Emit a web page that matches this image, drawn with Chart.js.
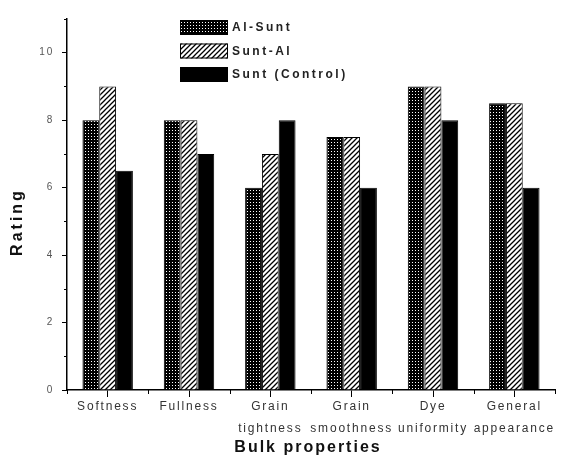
<!DOCTYPE html>
<html>
<head>
<meta charset="utf-8">
<script src="https://cdn.jsdelivr.net/npm/chart.js@4.4.1/dist/chart.umd.min.js"></script>
<style>
  html, body { margin: 0; padding: 0; background: #fff; }
  #wrap { width: 579px; height: 457px; }
</style>
</head>
<body>
<div id="wrap"><canvas id="chart" width="579" height="457"></canvas></div>
<script>
// Data
const categories = [
  ["Softness"], ["Fullness"], ["Grain", "tightness"],
  ["Grain", "smoothness"], ["Dye", "uniformity"], ["General", "appearance"]
];
const seriesNames = ["Al-Sunt", "Sunt-Al", "Sunt (Control)"];
const alSunt = [8, 8, 6, 7.5, 9, 8.5];
const suntAl = [9, 8, 7, 7.5, 9, 8.5];
const suntControl = [6.5, 7, 8, 6, 8, 6];
const yTicks = [0, 2, 4, 6, 8, 10];
const xTitle = "Bulk properties";
const yTitle = "Rating";

const FONT = "'Liberation Sans', Arial, sans-serif";

// fill patterns
function dotPattern() {
  const c = document.createElement("canvas");
  c.width = 3; c.height = 3;
  const g = c.getContext("2d");
  g.fillStyle = "#000";
  g.fillRect(0, 0, 3, 3);
  g.fillStyle = "#fff";
  g.fillRect(1, 1, 1, 1);
  return g.createPattern(c, "repeat");
}
function hatchPattern() {
  const c = document.createElement("canvas");
  c.width = 5; c.height = 5;
  const g = c.getContext("2d");
  g.fillStyle = "#fff";
  g.fillRect(0, 0, 5, 5);
  g.strokeStyle = "#000";
  g.lineWidth = 1.3;
  g.beginPath();
  g.moveTo(-1, 6); g.lineTo(6, -1);
  g.moveTo(-1, 1); g.lineTo(1, -1);
  g.moveTo(4, 6); g.lineTo(6, 4);
  g.stroke();
  return g.createPattern(c, "repeat");
}

// wide letter spacing for tick labels
const spacing = {
  id: "spacing",
  beforeLayout(chart) { chart.ctx.letterSpacing = "1.8px"; },
  beforeDraw(chart) { chart.ctx.letterSpacing = "1.8px"; }
};

// minor ticks on both axes
const minorTicks = {
  id: "minorTicks",
  afterDraw(chart) {
    const ctx = chart.ctx;
    const x = chart.scales.x, y = chart.scales.y;
    ctx.save();
    ctx.strokeStyle = "#000";
    ctx.lineWidth = 1;
    ctx.beginPath();
    for (let v = 1; v <= y.max; v += 2) {
      const py = Math.round(y.getPixelForValue(v)) + 0.5;
      ctx.moveTo(x.left, py); ctx.lineTo(x.left - 3, py);
    }
    const n = categories.length;
    for (let i = 0; i <= n; i++) {
      let px;
      if (i === 0) px = x.left;
      else if (i === n) px = x.right;
      else px = (x.getPixelForTick(i - 1) + x.getPixelForTick(i)) / 2;
      px = Math.round(px) + 0.5;
      ctx.moveTo(px, y.bottom); ctx.lineTo(px, y.bottom + 4);
    }
    ctx.stroke();
    ctx.restore();
  }
};

// axis titles and stacked legend
const extras = {
  id: "extras",
  afterDraw(chart) {
    const ctx = chart.ctx;
    const x = chart.scales.x;
    ctx.save();
    ctx.fillStyle = "#111";
    ctx.textBaseline = "middle";
    ctx.textAlign = "center";
    ctx.letterSpacing = "2px";
    ctx.font = "bold 16px " + FONT;
    ctx.fillText(xTitle, (x.left + x.right) / 2 - 3, 448);

    ctx.save();
    ctx.translate(18, 222);
    ctx.rotate(-Math.PI / 2);
    ctx.letterSpacing = "3px";
    ctx.fillText(yTitle, 0, 0);
    ctx.restore();

    ctx.textAlign = "left";
    ctx.letterSpacing = "2.5px";
    ctx.font = "bold 12px " + FONT;
    chart.data.datasets.forEach((ds, i) => {
      const top = 20 + i * 23.5;
      ctx.fillStyle = ds.backgroundColor;
      ctx.fillRect(180, top, 48, 15);
      ctx.strokeStyle = "#000";
      ctx.lineWidth = 1;
      ctx.strokeRect(180.5, top + 0.5, 47, 14);
      ctx.fillStyle = "#222";
      ctx.fillText(ds.label, 232, top + 8);
    });
    ctx.restore();
  }
};

const ctx = document.getElementById("chart").getContext("2d");
const fills = [dotPattern(), hatchPattern(), "#000"];
const values = [alSunt, suntAl, suntControl];

new Chart(ctx, {
  type: "bar",
  data: {
    labels: categories,
    datasets: seriesNames.map((name, i) => ({
      label: name,
      data: values[i],
      backgroundColor: fills[i],
      borderColor: "#000",
      borderWidth: 1,
      categoryPercentage: 0.62,
      barPercentage: 1
    }))
  },
  options: {
    responsive: false,
    animation: false,
    devicePixelRatio: 1,
    layout: { padding: { left: 0, top: 19, right: 24, bottom: 0 } },
    plugins: { legend: { display: false }, tooltip: { enabled: false } },
    scales: {
      x: {
        afterFit(s) { s.height = 67; },
        border: { color: "#000", width: 1.5 },
        grid: { display: true, offset: false, drawOnChartArea: false, tickLength: 7, color: "#000" },
        ticks: {
          color: "#333", autoSkip: false, maxRotation: 0, padding: -1,
          font: { family: FONT, size: 12, lineHeight: 1.8 }
        }
      },
      y: {
        min: 0, max: 11,
        afterFit(s) { s.width = 67; },
        afterBuildTicks(s) { s.ticks = yTicks.map(v => ({ value: v })); },
        border: { color: "#000", width: 1.5 },
        grid: { drawOnChartArea: false, tickLength: 5, color: "#000" },
        ticks: {
          color: "#555", padding: 8,
          font: { family: FONT, size: 10 }
        }
      }
    }
  },
  plugins: [spacing, minorTicks, extras]
});
</script>
</body>
</html>
